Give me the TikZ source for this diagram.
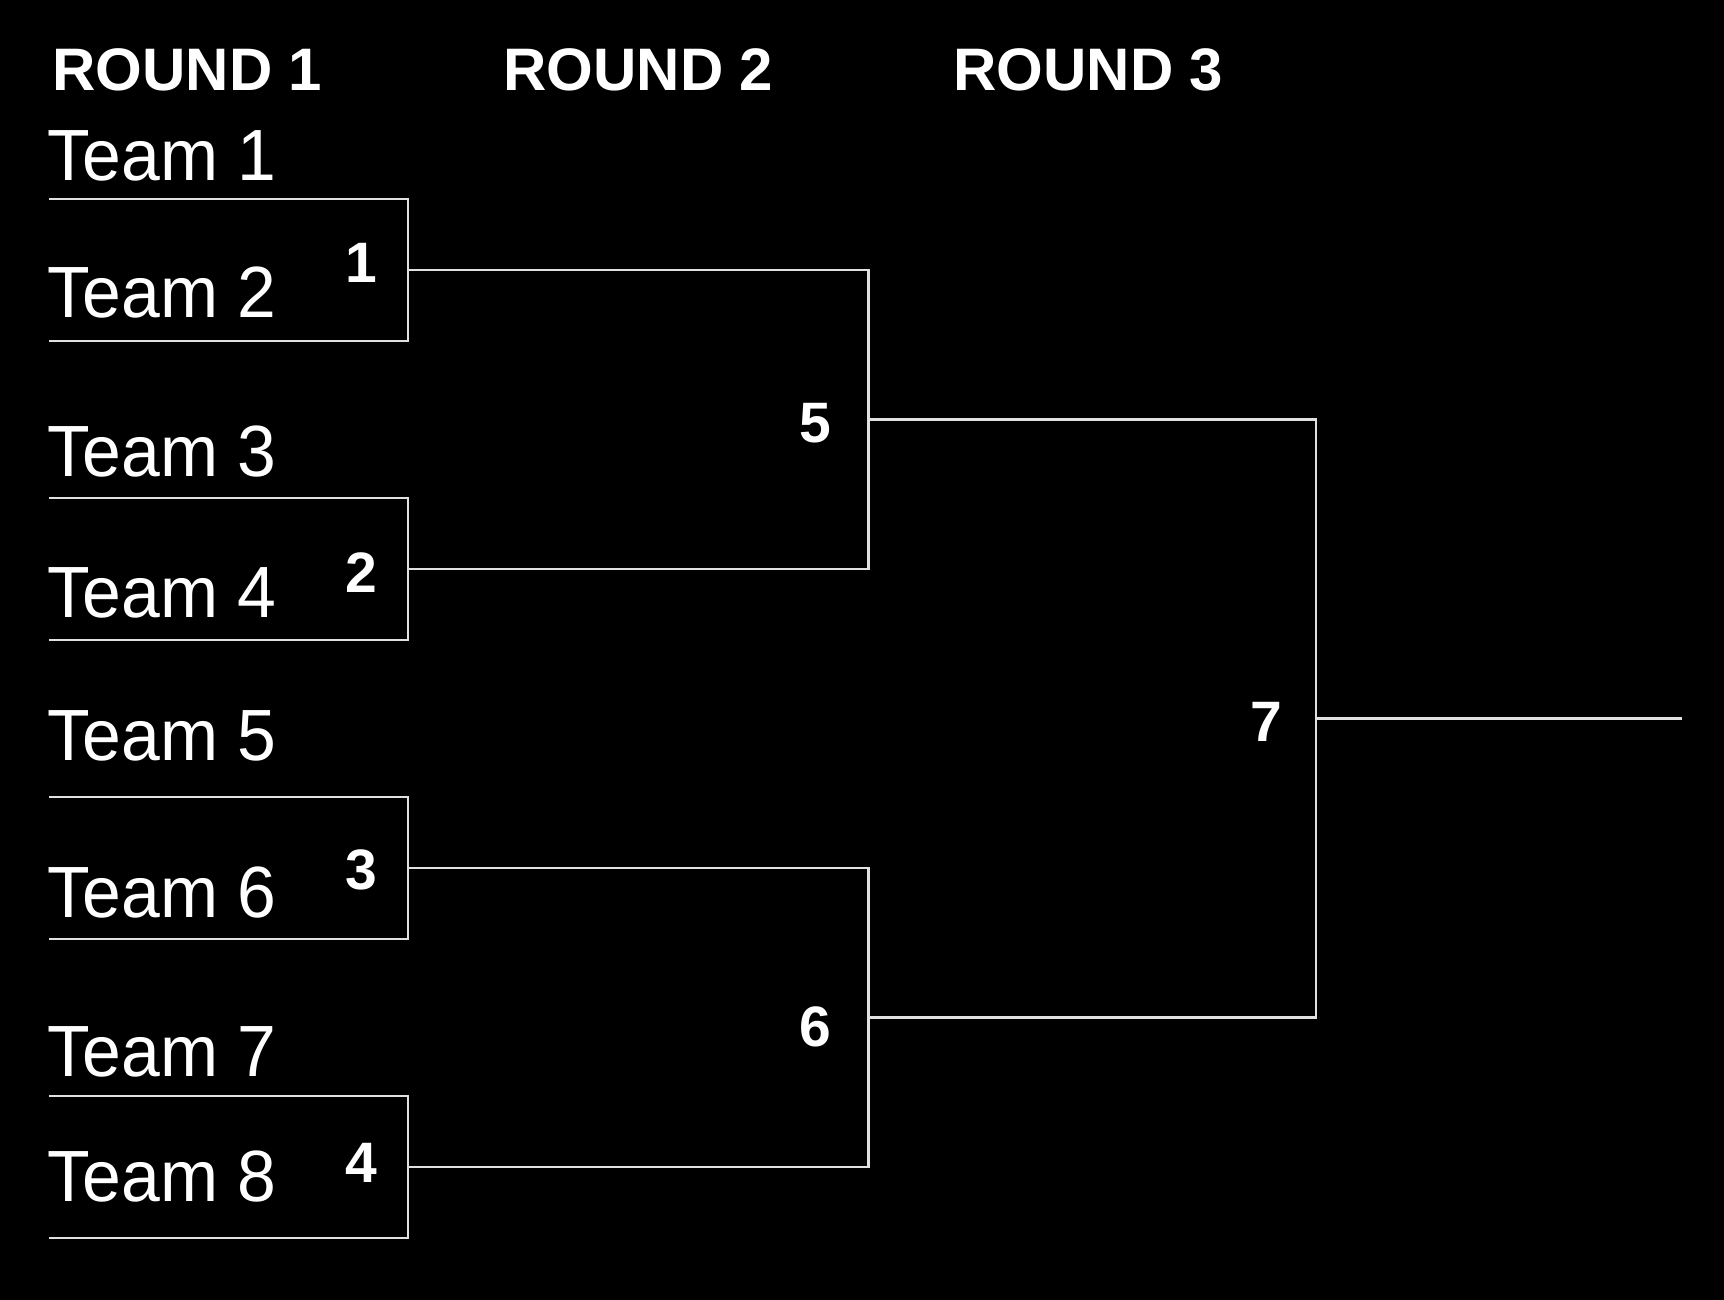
\documentclass[tikz,border=0pt]{standalone}
\usepackage{fontspec}
\setmainfont{Liberation Sans}
\newfontfamily\teamfont{Liberation Sans}[FakeStretch=0.96]
\newfontfamily\headfont{Liberation Sans}
\begin{document}
\begin{tikzpicture}[x=0.5pt,y=-0.5pt,
  team/.style={anchor=base west, inner sep=0pt, text=white, font=\teamfont\fontsize{36.3}{40}\selectfont},
  head/.style={anchor=base west, inner sep=0pt, text=white, font=\headfont\bfseries\fontsize{30}{34}\selectfont},
  seed/.style={anchor=base, inner sep=0pt, text=white, font=\bfseries\fontsize{28.5}{32}\selectfont},
  wire/.style={draw=white!88!black, line width=1.4pt, line join=miter}]
\fill[black] (0,0) rectangle (1724,1300);
\useasboundingbox (0,0) rectangle (1724,1300);

% headings
\node[head] (h1) at (52,91) {ROUND 1};
\node[head] (h2) at (503,91) {ROUND 2};
\node[head] (h3) at (953,91) {ROUND 3};

% teams
\node[team] (t1) at (47.5,181) {Team 1};
\node[team] (t2) at (47.5,317) {Team 2};
\node[team] (t3) at (47.5,476) {Team 3};
\node[team] (t4) at (47.5,617) {Team 4};
\node[team] (t5) at (47.5,760) {Team 5};
\node[team] (t6) at (47.5,917) {Team 6};
\node[team] (t7) at (47.5,1076) {Team 7};
\node[team] (t8) at (47.5,1201) {Team 8};

% bracket coordinates, round 1
\foreach \i/\top/\bot/\mid in {1/199/341/270, 2/498/640/569, 3/797/939/868, 4/1096/1238/1167}{
  \coordinate (tl\i) at (49,\top);
  \coordinate (tr\i) at (408,\top);
  \coordinate (br\i) at (408,\bot);
  \coordinate (bl\i) at (49,\bot);
  \coordinate (m\i) at (408,\mid);
}
% round 2
\coordinate (ra) at (868.5,270);
\coordinate (rb) at (868.5,569);
\coordinate (rc) at (868.5,868);
\coordinate (rd) at (868.5,1167);
\coordinate (ma) at (868.5,419.5);
\coordinate (mb) at (868.5,1017.5);
% round 3
\coordinate (fa) at (1316,419.5);
\coordinate (fb) at (1316,1017.5);
\coordinate (fm) at (1316,718.5);
\coordinate (fe) at (1682,718.5);

\foreach \i in {1,2,3,4}{
  \draw[wire] (tl\i) -- (tr\i) -- (br\i) -- (bl\i);
}
\draw[wire] (m1) -- (ra) -- (rb) -- (m2);
\draw[wire] (m3) -- (rc) -- (rd) -- (m4);
\draw[wire] (ma) -- (fa) -- (fb) -- (mb);
\draw[wire] (fm) -- (fe);

% seeds / game numbers
\node[seed] (s1) at (361,283) {1};
\node[seed] (s2) at (361,592) {2};
\node[seed] (s3) at (361,889) {3};
\node[seed] (s4) at (361,1182) {4};
\node[seed] (s5) at (815,442) {5};
\node[seed] (s6) at (815,1046) {6};
\node[seed] (s7) at (1266,741) {7};
\end{tikzpicture}
\end{document}
